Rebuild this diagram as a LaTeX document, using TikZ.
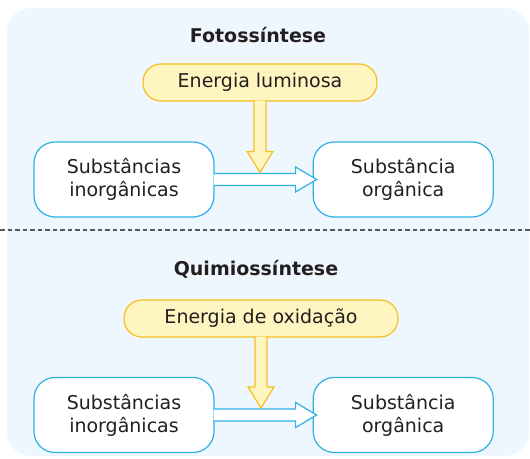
\documentclass[tikz,border=0pt]{standalone}
\usepackage{fontspec}
\setmainfont{DejaVu Sans}
\usetikzlibrary{positioning}

\definecolor{bgblue}{HTML}{EEF7FD}
\definecolor{boxblue}{HTML}{2EB0E6}
\definecolor{energyfill}{HTML}{FFF5C0}
\definecolor{energyline}{HTML}{F7BE1E}
\definecolor{inktext}{HTML}{231F20}

\tikzset{
  subst/.style={draw=boxblue, line width=1.2pt, fill=white, rounded corners=21pt,
    minimum width=180pt, minimum height=75pt, align=center, text=inktext,
    font=\fontsize{19}{23}\selectfont},
  energy/.style={draw=energyline, line width=1.2pt, fill=energyfill, rounded corners=18pt,
    minimum height=37pt, text=inktext, font=\fontsize{19}{23}\selectfont},
  heading/.style={text=inktext, font=\fontsize{19}{23}\selectfont\bfseries},
  harrow/.style={draw=boxblue, line width=1.2pt, fill=white, line join=miter},
  varrow/.style={draw=energyline, line width=1.2pt, fill=energyfill, line join=miter}
}

\begin{document}
\begin{tikzpicture}[x=1pt, y=1pt]
  \useasboundingbox (0,0) rectangle (530,458);
  \fill[bgblue, rounded corners=24pt] (7,2) rectangle (529,450);
  \draw[black!65, line width=1.3pt, dash pattern=on 4.5pt off 3pt] (0,228) -- (530,228);

  % Fotossintese
  \node[heading] (t1) at (258,423) {Fotossíntese};
  \node[energy, minimum width=234pt] (e1) at (260,375.5) {Energia luminosa};
  \node[subst] (inorg1) at (124,278.5) {Substâncias\\inorgânicas};
  \node[subst, right=98pt of inorg1] (org1) {Substância\\orgânica};

  \coordinate (tip1) at ([xshift=4pt]org1.west);
  \draw[harrow] ([xshift=-1pt,yshift=6pt]inorg1.east) -- ([xshift=-21pt,yshift=6pt]tip1)
    -- ([xshift=-21pt,yshift=12.5pt]tip1) -- (tip1) -- ([xshift=-21pt,yshift=-12.5pt]tip1)
    -- ([xshift=-21pt,yshift=-6pt]tip1) -- ([xshift=-1pt,yshift=-6pt]inorg1.east);
  \coordinate (down1) at ([yshift=7pt]inorg1.east -| e1.south);
  \draw[varrow] ([xshift=-6pt,yshift=1pt]e1.south) -- ([xshift=-6pt,yshift=21pt]down1)
    -- ([xshift=-13pt,yshift=21pt]down1) -- (down1) -- ([xshift=13pt,yshift=21pt]down1)
    -- ([xshift=6pt,yshift=21pt]down1) -- ([xshift=6pt,yshift=1pt]e1.south);

  % Quimiossintese
  \node[heading] (t2) at (256,189) {Quimiossíntese};
  \node[energy, minimum width=274pt] (e2) at (261,139.5) {Energia de oxidação};
  \node[subst] (inorg2) at (124,43) {Substâncias\\inorgânicas};
  \node[subst, right=98pt of inorg2] (org2) {Substância\\orgânica};

  \coordinate (tip2) at ([xshift=4pt]org2.west);
  \draw[harrow] ([xshift=-1pt,yshift=6pt]inorg2.east) -- ([xshift=-21pt,yshift=6pt]tip2)
    -- ([xshift=-21pt,yshift=12.5pt]tip2) -- (tip2) -- ([xshift=-21pt,yshift=-12.5pt]tip2)
    -- ([xshift=-21pt,yshift=-6pt]tip2) -- ([xshift=-1pt,yshift=-6pt]inorg2.east);
  \coordinate (down2) at ([yshift=7pt]inorg2.east -| e2.south);
  \draw[varrow] ([xshift=-6pt,yshift=1pt]e2.south) -- ([xshift=-6pt,yshift=21pt]down2)
    -- ([xshift=-13pt,yshift=21pt]down2) -- (down2) -- ([xshift=13pt,yshift=21pt]down2)
    -- ([xshift=6pt,yshift=21pt]down2) -- ([xshift=6pt,yshift=1pt]e2.south);
\end{tikzpicture}
\end{document}
